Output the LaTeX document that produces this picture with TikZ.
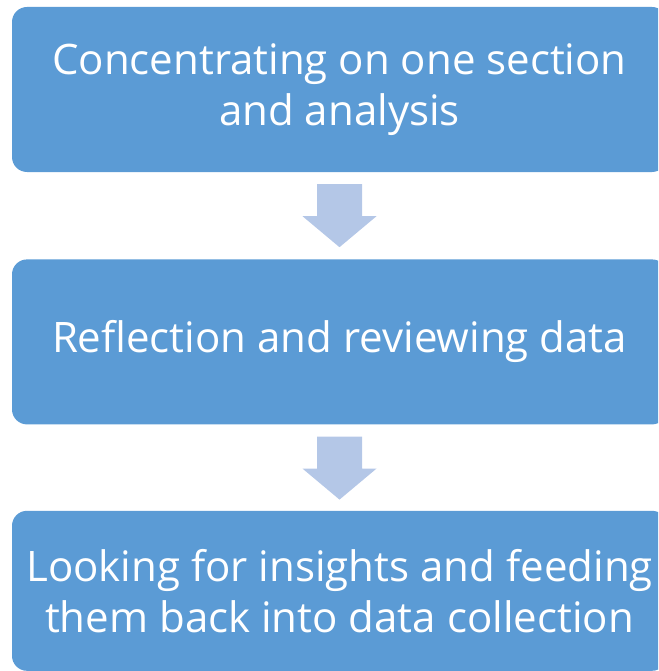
\documentclass[tikz,border=0pt]{standalone}
\usepackage{fontspec}
\newfontfamily\flowfont{Open Sans}
\usetikzlibrary{positioning}

\definecolor{boxblue}{HTML}{5B9BD5}
\definecolor{arrowblue}{HTML}{B4C7E7}

\newcommand{\downarrowbelow}[1]{%
  \fill[arrowblue] ([shift={(-22.5pt,-12pt)}]#1.south) -- ++(0pt,-32pt) -- ++(-14.5pt,0pt)
    -- ++(37pt,-31pt) -- ++(37pt,31pt) -- ++(-14.5pt,0pt) -- ++(0pt,32pt) -- cycle;}

\begin{document}
\begin{tikzpicture}[x=1pt,y=-1pt]
    \tikzstyle{stepbox}=[fill=boxblue, text=white, rounded corners=15pt, inner sep=0pt,
      minimum width=655pt, minimum height=165pt, align=center,
      font=\flowfont\fontsize{42pt}{51pt}\selectfont]
    \clip (0,0) rectangle (658,671);

    \node[stepbox] (analysis) at (339.5,89.5) {Concentrating on one section\\and analysis};
    \node[stepbox, below=87pt of analysis] (reflection) {Reflection and reviewing data};
    \node[stepbox, below=86pt of reflection, minimum height=160pt] (insights) {Looking for insights and feeding\\them back into data collection};

    \downarrowbelow{analysis}
    \downarrowbelow{reflection}
\end{tikzpicture}
\end{document}
